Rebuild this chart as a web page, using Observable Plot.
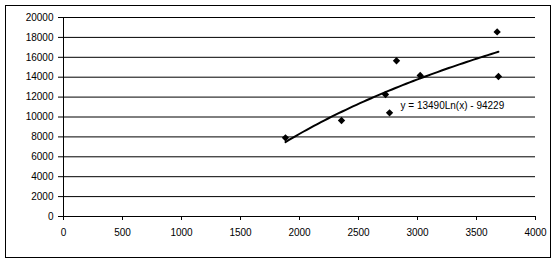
<!DOCTYPE html>
<html>
<head>
<meta charset="utf-8">
<script src="https://cdn.jsdelivr.net/npm/d3@7"></script>
<script src="https://cdn.jsdelivr.net/npm/@observablehq/plot@0.6"></script>
<style>
  html, body { margin: 0; padding: 0; background: #fff; }
  #chart svg { display: block; }
</style>
</head>
<body>
<div id="chart"></div>
<script>
// Data
const xValues = [1881, 2356, 2729, 2763, 2822, 3023, 3675, 3686];
const yValues = [7910, 9650, 12260, 10420, 15650, 14170, 18550, 14070];
const xTicks = [0, 500, 1000, 1500, 2000, 2500, 3000, 3500, 4000];
const yTicks = [0, 2000, 4000, 6000, 8000, 10000, 12000, 14000, 16000, 18000, 20000];
// Trendline coefficients shown on the chart
const trendA = 13490;
const trendB = -94229;
const trendLabel = "y = 13490Ln(x) - 94229";

const points = xValues.map((x, i) => ({x, y: yValues[i]}));
const xMin = d3.min(xValues), xMax = d3.max(xValues);
const trend = d3.range(0, 61).map(i => {
  const x = xMin + (xMax - xMin) * i / 60;
  return {x, y: trendA * Math.log(x) + trendB};
});

const chart = Plot.plot({
  width: 555,
  height: 263,
  marginLeft: 63,
  marginRight: 20,
  marginTop: 17,
  marginBottom: 47,
  style: {fontFamily: "Liberation Sans, Arial, sans-serif", fontSize: "10px", color: "#000", background: "#fff"},
  x: {domain: [0, 4000], ticks: xTicks, tickSize: 4, tickPadding: 8, tickFormat: d => String(d), label: null},
  y: {domain: [0, 20000], ticks: yTicks, tickSize: 5, tickPadding: 5, tickFormat: d => String(d), label: null},
  marks: [
    Plot.gridY(yTicks, {stroke: "#000", strokeOpacity: 1, strokeWidth: 1}),
    Plot.ruleX([0], {stroke: "#000"}),
    Plot.ruleY([0], {stroke: "#000"}),
    Plot.axisX({ticks: xTicks, tickSize: 4, tickPadding: 8, tickFormat: d => String(d), label: null, fill: "#000"}),
    Plot.axisY({ticks: yTicks, tickSize: 5, tickPadding: 5, tickFormat: d => String(d), label: null, fill: "#000"}),
    Plot.line(trend, {x: "x", y: "y", stroke: "#000", strokeWidth: 2}),
    Plot.dot(points, {x: "x", y: "y", symbol: "diamond2", r: 3.3, fill: "#000", stroke: "none"}),
    Plot.text([{x: 2856, y: 11150}], {x: "x", y: "y", text: () => trendLabel, textAnchor: "start", fill: "#000", fontSize: 10})
  ]
});

d3.select(chart).append("rect")
  .attr("x", 5.5).attr("y", 5.5)
  .attr("width", 545).attr("height", 252)
  .attr("fill", "none").attr("stroke", "#000").attr("stroke-width", 1);

document.getElementById("chart").appendChild(chart);
</script>
</body>
</html>
